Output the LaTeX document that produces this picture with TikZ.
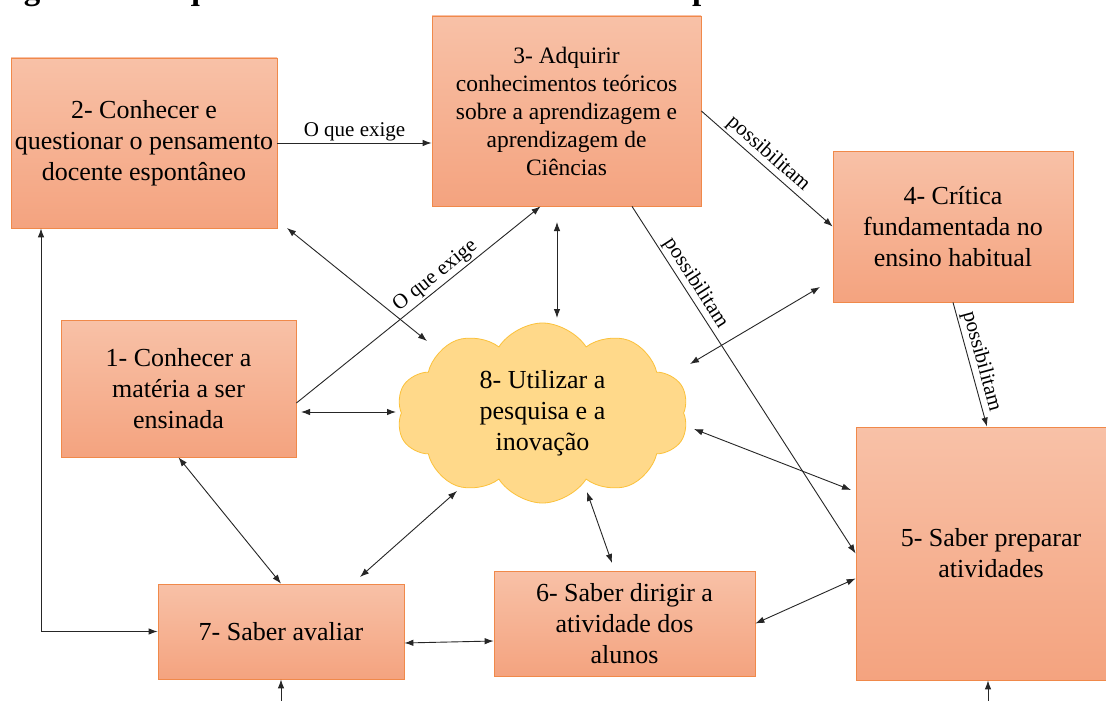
\documentclass[tikz,border=0pt]{standalone}
\usepackage{fontspec}
\setmainfont{Liberation Serif}
\usetikzlibrary{arrows.meta,shapes.symbols,calc}
\definecolor{boxtop}{HTML}{F8C1A7}
\definecolor{boxbot}{HTML}{F4A37F}
\definecolor{boxline}{HTML}{F0894A}
\definecolor{cloudfill}{HTML}{FFD98A}
\definecolor{cloudline}{HTML}{FBC13A}
\begin{document}
\begin{tikzpicture}[x=1pt,y=-1pt,
  box/.style={rectangle, draw=boxline, line width=0.8pt, top color=boxtop, bottom color=boxbot,
    align=center, font=\fontsize{26}{31}\selectfont, inner sep=0pt},
  cloudnode/.style={cloud, cloud puffs=10, cloud puff arc=115, aspect=1.62,
    minimum width=292, minimum height=180, draw=cloudline, fill=cloudfill, line width=0.8pt,
    align=center, font=\fontsize{26}{31}\selectfont, inner sep=0pt},
  lab/.style={font=\fontsize{21}{24}\selectfont, inner sep=2pt},
  arr/.style={draw=black!85, line width=0.9pt, -{Latex[length=9pt,width=6.5pt]}},
  dbl/.style={draw=black!85, line width=0.9pt, {Latex[length=9pt,width=6.5pt]}-{Latex[length=9pt,width=6.5pt]}}
]
\useasboundingbox (0,0) rectangle (1106,701);
\fill[white] (0,0) rectangle (1106,701);

\node[anchor=base east, font=\bfseries\fontsize{33}{38}\selectfont, inner sep=0pt] (title) at (1010,0)
  {Figura 3 – O que deveriam saber e saber fazer os professores de ciências};

\node[box, minimum width=266, minimum height=170] (b2) at (144,143)
  {2- Conhecer e\\questionar o pensamento\\docente espontâneo};
\node[box, minimum width=269, minimum height=190, font=\fontsize{23.5}{28}\selectfont] (b3) at (566.5,111)
  {3- Adquirir\\conhecimentos teóricos\\sobre a aprendizagem e\\aprendizagem de\\Ciências};
\node[box, minimum width=240, minimum height=151] (b4) at (953,226.5)
  {4- Crítica\\fundamentada no\\ensino habitual};
\node[box, minimum width=235, minimum height=137] (b1) at (178.5,388.5)
  {1- Conhecer a\\matéria a ser\\ensinada};
\node[box, minimum width=270, minimum height=253] (b5) at (991,553.5)
  {5- Saber preparar\\atividades};
\node[box, minimum width=261, minimum height=105] (b6) at (624.5,623.5)
  {6- Saber dirigir a\\atividade dos\\alunos};
\node[box, minimum width=246, minimum height=95] (b7) at (281,631.5)
  {7- Saber avaliar};
\node[cloudnode] (c8) at (542.5,413)
  {8- Utilizar a\\pesquisa e a\\inovação};

\coordinate (p3a) at (557,222);  \coordinate (p3b) at (557,318);
\coordinate (p4a) at (287,228);  \coordinate (p4b) at (427,341);
\coordinate (p5a) at (301,412);  \coordinate (p5b) at (396,412);
\coordinate (p9a) at (820,287);  \coordinate (p9b) at (690,364);
\coordinate (p10a) at (694,429); \coordinate (p10b) at (851,490);
\coordinate (p11a) at (587,492); \coordinate (p11b) at (612,563);
\coordinate (p14a) at (457,491); \coordinate (p14b) at (360,577);
\coordinate (q7) at (281,706);   \coordinate (q5) at (988,706);

\draw[arr] (b2.east) -- (b2.east -| b3.west) node[lab, midway, above] {O que exige};
\draw[arr] ([yshift=-14.5pt]b1.east) -- ([xshift=-26pt]b3.south) node[lab, pos=0.6, sloped, above] {O que exige};
\draw[arr] (b3.east) -- (b4.west) node[lab, pos=0.45, sloped, above] {possibilitam};
\draw[arr] ([xshift=65.5pt]b3.south) -- (b5.west) node[lab, pos=0.24, sloped, above] {possibilitam};
\draw[arr] (b4.south) -- ([xshift=-4pt]b5.north) node[lab, pos=0.5, sloped, above] {possibilitam};

\draw[dbl] (p3a) -- (p3b);
\draw[dbl] (p4a) -- (p4b);
\draw[dbl] (p5a) -- (p5b);
\draw[dbl] (p9a) -- (p9b);
\draw[dbl] (p10a) -- (p10b);
\draw[dbl] (p11a) -- (p11b);
\draw[dbl] (p14a) -- (p14b);
\draw[dbl] (b6.east) -- ([yshift=-25pt]b5.west);
\draw[dbl] (b1.south) -- (b7.north);
\draw[dbl] ([yshift=-11.5pt]b7.east) -- ([yshift=-17.5pt]b6.west);
\draw[dbl] ([xshift=-103pt]b2.south) |- (b7.west);
\draw[arr] (q7) -- (b7.south);
\draw[arr] (q5) -- ([xshift=-3pt]b5.south);
\end{tikzpicture}
\end{document}
